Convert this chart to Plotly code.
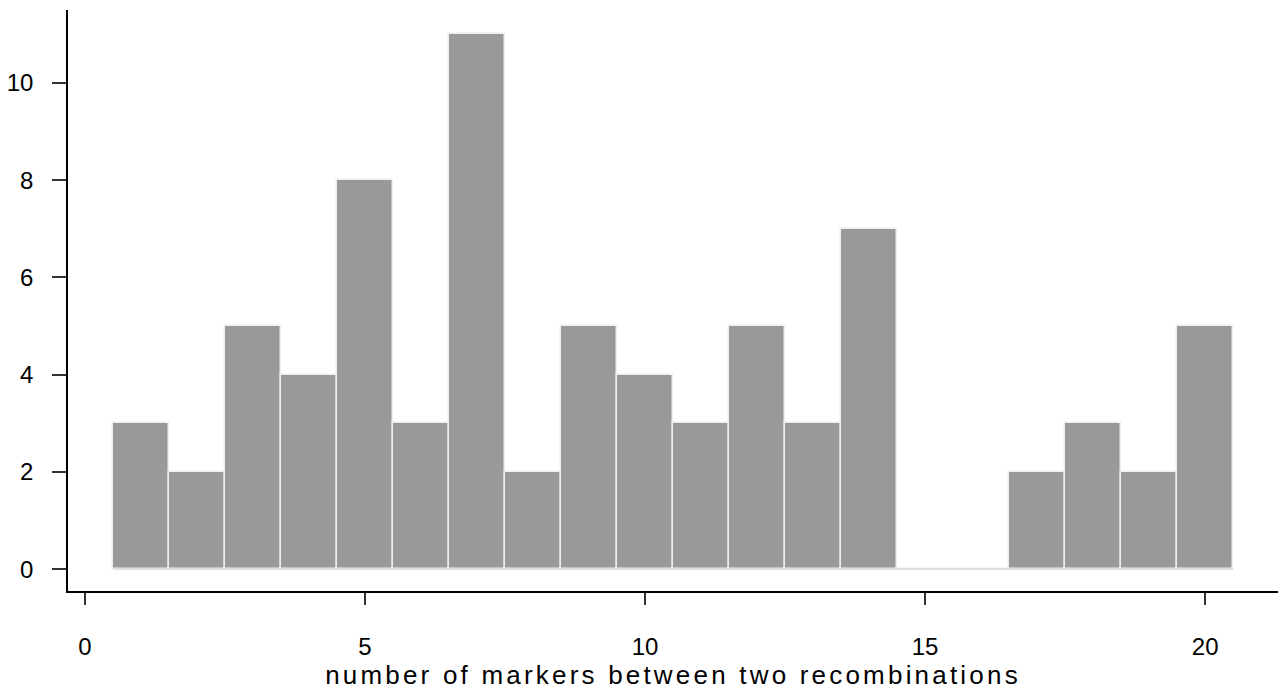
import plotly.graph_objects as go

markers = list(range(1, 21))
counts = [3, 2, 5, 4, 8, 3, 11, 2, 5, 4, 3, 5, 3, 7, 0, 0, 2, 3, 2, 5]
x_ticks = [0, 5, 10, 15, 20]
y_ticks = [0, 2, 4, 6, 8, 10]

fig = go.Figure()
# baseline for empty bins (R draws zero-height rectangles)
fig.add_trace(go.Scatter(
    x=[markers[0] - 0.5, markers[-1] + 0.5], y=[0, 0], mode="lines",
    line=dict(color="#d9d9d9", width=1.5), hoverinfo="skip", showlegend=False))
fig.add_trace(go.Bar(
    x=markers, y=counts, width=1,
    marker=dict(color="#999999", line=dict(color="#eeeeee", width=1.5)),
    showlegend=False))

font = dict(family="Liberation Sans, Arial, sans-serif", size=24, color="#000000")
fig.update_layout(
    width=1280, height=693,
    margin=dict(l=68, r=2, t=10, b=102),
    plot_bgcolor="white", paper_bgcolor="white",
    bargap=0,
    font=font,
    xaxis=dict(
        range=[-0.30, 21.3], tickvals=x_ticks, ticktext=[str(v) for v in x_ticks],
        showline=True, linecolor="black", linewidth=1.5, showgrid=False, zeroline=False,
        ticks="outside", ticklen=12, tickcolor="#333333", tickwidth=1.5,
        ticklabelstandoff=21,
        title=dict(text="number of markers between two recombinations",
                   font=dict(size=26), standoff=2),
    ),
    yaxis=dict(
        range=[-0.45, 11.5], tickvals=y_ticks,
        showline=True, linecolor="black", linewidth=1.5, showgrid=False, zeroline=False,
        ticks="outside", ticklen=14, tickcolor="#333333", tickwidth=1.5,
        ticklabelstandoff=14,
    ),
)
post = """
document.body.style.margin='0';
document.querySelectorAll('.xtitle').forEach(function(e){e.style.letterSpacing='3.2px';});
"""
fig.write_html("out.html", post_script=post, config={"displayModeBar": False})
